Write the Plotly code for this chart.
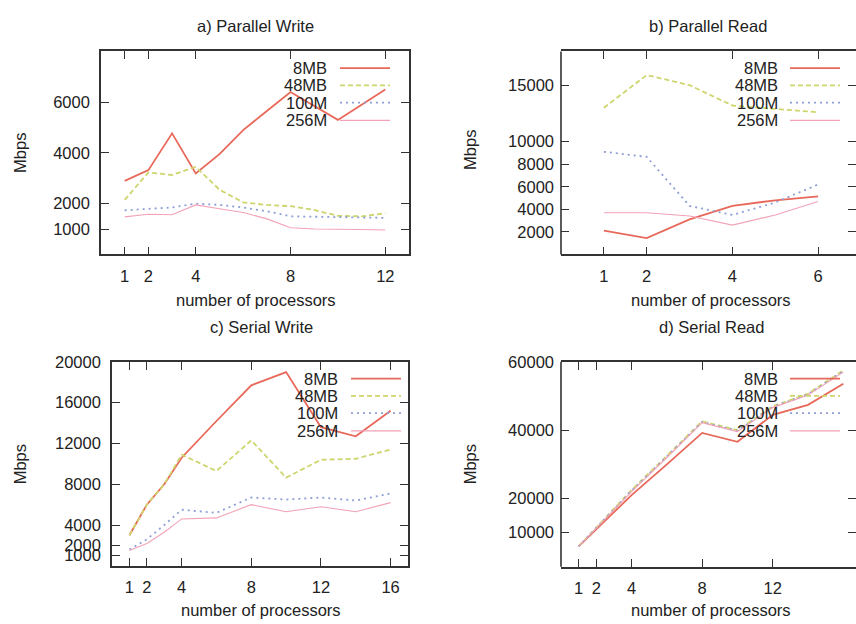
import plotly.graph_objects as go

W, H = 856, 624

# ---------------- data ----------------
series_names = ["8MB", "48MB", "100M", "256M"]

pw_x = [1, 2, 3, 4, 5, 6, 7, 8, 9, 10, 11, 12]
pw_8mb = [2900, 3320, 4770, 3190, 3950, 4900, 5650, 6400, 5850, 5300, 5900, 6500]
pw_48mb = [2150, 3230, 3130, 3450, 2550, 2050, 1950, 1900, 1750, 1520, 1500, 1620]
pw_100m = [1740, 1800, 1850, 2000, 1950, 1850, 1700, 1500, 1480, 1480, 1460, 1440]
pw_256m = [1480, 1580, 1560, 1950, 1800, 1650, 1400, 1050, 1000, 1000, 980, 960]

pr_x = [1, 2, 3, 4, 5, 6]
pr_8mb = [2100, 1450, 3100, 4300, 4800, 5150]
pr_48mb = [13000, 15900, 15000, 13200, 12900, 12600]
pr_100m = [9100, 8650, 4300, 3500, 4600, 6200]
pr_256m = [3700, 3700, 3400, 2600, 3500, 4700]

sw_x = [1, 2, 3, 4, 6, 8, 10, 12, 14, 16]
sw_8mb = [3000, 6000, 8000, 10600, 14200, 17700, 19000, 13600, 12700, 15200]
sw_48mb = [3000, 6000, 8000, 10900, 9300, 12300, 8650, 10400, 10500, 11400]
sw_100m = [1600, 2600, 4000, 5500, 5200, 6700, 6500, 6700, 6400, 7100]
sw_256m = [1500, 2200, 3300, 4600, 4700, 6000, 5300, 5800, 5300, 6200]

sr_x = [1, 2, 4, 6, 8, 10, 12, 14, 16]
sr_8mb = [6000, 11000, 21000, 30000, 39200, 36600, 44500, 47400, 53600]
sr_48mb = [6000, 11500, 22500, 32500, 42600, 40000, 47000, 50700, 57500]
sr_100m = [6000, 11500, 22300, 32300, 42400, 39800, 46800, 50500, 57300]
sr_256m = [6000, 11300, 22000, 32000, 42200, 39600, 46600, 50300, 57000]

titles = ["a) Parallel Write", "b) Parallel Read", "c) Serial Write", "d) Serial Read"]
x_title = "number of processors"
y_title = "Mbps"

pw_xticks = [1, 2, 4, 8, 12]
pw_yticks = [1000, 2000, 4000, 6000]
pr_xticks = [1, 2, 4, 6]
pr_yticks = [2000, 4000, 6000, 8000, 10000, 15000]
sw_xticks = [1, 2, 4, 8, 12, 16]
sw_yticks = [1000, 2000, 4000, 8000, 12000, 16000, 20000]
sr_xticks = [1, 2, 4, 8, 12]
sr_yticks = [10000, 20000, 40000, 60000]

# ---------------- styles ----------------
FONT = "Liberation Sans, Arial, sans-serif"
FS = 16.5
TXT = "#222222"
AX = "#333333"
styles = [
    dict(color="#e8685a", width=1.8, dash="solid"),
    dict(color="#cdd56c", width=1.8, dash="5px,3px"),
    dict(color="#8e9fd6", width=1.8, dash="2px,4px"),
    dict(color="#f2a2b6", width=1.1, dash="solid"),
]

def px_x(p):
    return p / W

def px_y(p):
    return 1 - p / H

# panel geometry in pixels: (left, right, top, bottom), x range
panels = [
    dict(x=pw_x, ys=[pw_8mb, pw_48mb, pw_100m, pw_256m], geo=(101, 409, 43, 249),
         xr=[0, 13], yr=[0, 8000], xt=pw_xticks, yt=pw_yticks, cut=False),
    dict(x=pr_x, ys=[pr_8mb, pr_48mb, pr_100m, pr_256m], geo=(561, 856, 43, 249),
         xr=[0, 295 / (300 / 7)], yr=[0, 18000], xt=pr_xticks, yt=pr_yticks, cut=True),
    dict(x=sw_x, ys=[sw_8mb, sw_48mb, sw_100m, sw_256m], geo=(112, 408, 358, 565),
         xr=[0, 17], yr=[0, 20000], xt=sw_xticks, yt=sw_yticks, cut=False),
    dict(x=sr_x, ys=[sr_8mb, sr_48mb, sr_100m, sr_256m], geo=(561, 856, 358, 566),
         xr=[0, 295 / (300 / 17)], yr=[0, 60000], xt=sr_xticks, yt=sr_yticks, cut=True),
]

fig = go.Figure()
annotations = []
shapes = []

legend_rows_px = [17, 34.5, 52, 70]  # offsets below panel top

for i, p in enumerate(panels):
    n = i + 1
    xa = "x" if n == 1 else f"x{n}"
    ya = "y" if n == 1 else f"y{n}"
    xkey = "xaxis" if n == 1 else f"xaxis{n}"
    ykey = "yaxis" if n == 1 else f"yaxis{n}"
    l, r, t, b = p["geo"]
    for name, ys, st in zip(series_names, p["ys"], styles):
        fig.add_trace(go.Scatter(x=p["x"], y=ys, mode="lines", name=name,
                                 line=st, xaxis=xa, yaxis=ya, showlegend=False))
    common = dict(showgrid=False, zeroline=False, ticks="inside", ticklen=8,
                  tickwidth=1.4, tickcolor=AX, linecolor=AX, linewidth=1.6,
                  tickformat="d",
                  tickfont=dict(family=FONT, size=FS, color=TXT))
    fig.update_layout({
        xkey: dict(domain=[px_x(l), px_x(r)], range=p["xr"], tickvals=p["xt"],
                   showline=True, mirror="ticks", anchor=ya, ticklabelstandoff=6,
                   **common),
        ykey: dict(domain=[px_y(b), px_y(t)], range=p["yr"], tickvals=p["yt"],
                   showline=not p["cut"], mirror="ticks", anchor=xa,
                   ticklabelstandoff=6, **common),
    })
    if p["cut"]:
        shapes.append(dict(type="line", xref=f"{xa} domain", yref=f"{ya} domain",
                           x0=0, x1=0, y0=0, y1=1, line=dict(color=AX, width=1.6)))
    # custom gnuplot-style legend
    ph_ = b - t
    tx = (228 if not p["cut"] else 219) / (r - l)
    lx0 = (239 if not p["cut"] else 229) / (r - l)
    lx1 = (289 if not p["cut"] else 279) / (r - l)
    for k, (name, st) in enumerate(zip(series_names, styles)):
        yy = 1 - legend_rows_px[k] / ph_
        annotations.append(dict(text=name, xref=f"{xa} domain", yref=f"{ya} domain",
                                x=tx, y=yy, xanchor="right", yanchor="middle",
                                showarrow=False,
                                font=dict(family=FONT, size=FS, color=TXT)))
        shapes.append(dict(type="line", xref=f"{xa} domain", yref=f"{ya} domain",
                           x0=lx0, x1=lx1, y0=yy, y1=yy, line=st))

# titles and axis labels (pixel positions)
title_pos = [(255, 17), (708, 17), (261, 323), (711, 323)]
xlab_pos = [(256, 295), (711, 295), (261, 610), (711, 610)]
ylab_pos = [(20, 146), (470, 143), (20, 462), (470, 462)]
for k in range(4):
    annotations.append(dict(text=titles[k], xref="paper", yref="paper",
                            x=px_x(title_pos[k][0]), y=px_y(title_pos[k][1]),
                            xanchor="center", yanchor="middle", showarrow=False,
                            font=dict(family=FONT, size=FS, color=TXT)))
    annotations.append(dict(text=x_title, xref="paper", yref="paper",
                            x=px_x(xlab_pos[k][0]), y=px_y(xlab_pos[k][1]),
                            xanchor="center", yanchor="middle", showarrow=False,
                            font=dict(family=FONT, size=FS, color=TXT)))
    annotations.append(dict(text=y_title, xref="paper", yref="paper",
                            x=px_x(ylab_pos[k][0]), y=px_y(ylab_pos[k][1]),
                            xanchor="center", yanchor="middle", showarrow=False,
                            textangle=-90,
                            font=dict(family=FONT, size=FS, color=TXT)))

fig.update_layout(width=W, height=H, margin=dict(l=0, r=0, t=0, b=0),
                  paper_bgcolor="white", plot_bgcolor="white",
                  annotations=annotations, shapes=shapes, showlegend=False)

fig.write_html("out.html")
